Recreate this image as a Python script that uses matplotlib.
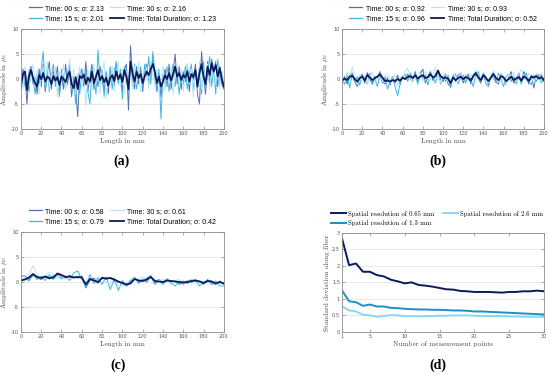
import numpy as np
import matplotlib
matplotlib.use("Agg")
import matplotlib.pyplot as plt

plt.rcParams["mathtext.fontset"] = "cm"
plt.rcParams["axes.unicode_minus"] = False

# kolory serii
C_00 = "#4f72ad"
C_15 = "#3fb5e0"
C_30 = "#b8e6f5"
C_TOT = "#0c1a5b"

# ---- panel (a): x co 2 mm ----
x_a = np.arange(0, 201, 2)
a_00 = [-2.0, 2.0, 0.5, -5.0, 1.5, 2.5, -1.0, 0.5, -3.0, 2.0,
        -1.5, 3.0, -2.5, 1.0, 3.5, -2.0, 1.5, 0.0, 2.5, -3.0,
        1.0, -2.0, 3.0, -1.0, 2.0, -3.5, 0.5, -2.0, -7.5, 1.0,
        2.0, -1.5, 3.5, -2.5, 0.5, 3.0, -2.0, 1.0, -1.5, 2.5,
        0.0, -2.5, 1.5, -3.0, 2.0, 0.5, -1.5, 3.0, -0.5, 1.5,
        -2.5, 2.0, 3.0, -6.2, 6.7, 0.5, -2.0, 2.5, -1.0, 2.0,
        -2.5, 1.0, 3.0, -1.0, 2.0, 4.0, 0.5, -2.5, 1.0, -3.5,
        0.0, 2.0, -1.5, 3.0, -2.0, 1.5, 5.0, -1.0, 2.5, -2.0,
        1.5, -0.5, 3.0, -2.5, 2.0, 0.0, 3.0, -3.0, -5.0, 5.5,
        0.5, -3.0, 3.5, -1.0, 4.0, 1.0, 3.5, -1.5, 2.5, -1.0,
        -2.0]
a_15 = [-1.0, 1.5, -1.5, 0.5, -2.5, 2.5, 0.0, -3.0, 1.0, -1.0,
        2.0, 5.5, -2.0, 1.5, -2.5, 0.5, 3.0, -1.5, 1.0, -3.5,
        2.0, 0.5, -2.0, 1.5, 3.0, -2.0, 0.0, -5.0, 1.0, -3.0,
        2.0, -1.0, 1.5, -2.5, -5.0, 2.0, 0.0, -3.0, 5.8, -1.0,
        2.0, -3.5, 1.0, -1.5, 2.5, -2.0, 1.5, 3.5, -1.0, 2.0,
        -4.0, 2.5, 0.5, -2.5, 2.0, -1.0, 3.0, -2.0, 1.0, 2.5,
        -2.0, 3.0, 0.5, 4.5, -1.0, 5.5, 1.5, -2.0, 2.0, -8.0,
        1.0, -1.5, 2.5, -2.5, 1.0, 3.0, -1.5, 2.0, -3.0, 1.5,
        -1.0, 2.5, -2.0, 1.0, 3.0, -2.5, 1.5, -1.0, 2.5, -3.0,
        3.5, -2.0, 1.0, 4.5, -1.5, 2.5, -3.0, 4.0, -1.0, 1.5,
        -1.0]
a_30 = [1.0, -2.0, 2.5, 0.0, -1.5, 1.0, 3.0, -1.0, 2.0, -3.0,
        0.5, 2.5, -1.0, 3.5, -2.0, 1.0, -0.5, 2.5, -3.5, 1.5,
        0.0, 3.0, -2.0, 1.0, 4.0, -1.5, 2.0, -3.0, 0.5, 2.5,
        -2.0, 1.5, -5.5, 2.0, 0.0, -2.5, 3.0, -1.0, 2.0, -3.0,
        1.5, 3.5, -4.0, 1.0, -1.5, 2.5, -2.5, 1.0, 3.5, -1.5,
        2.0, -3.0, 1.5, 0.0, 3.0, -2.0, 2.5, -1.0, 3.5, -2.5,
        1.0, -0.5, 2.5, -2.0, 3.5, 1.0, -1.5, 2.0, -3.0, 0.5,
        2.5, -2.5, 1.5, -1.0, 2.5, -3.0, 1.0, 3.0, -1.5, 2.0,
        -2.5, 1.0, 3.0, -1.0, 2.0, -3.5, 1.5, 0.0, 3.5, -2.0,
        2.0, -1.0, 3.0, -2.0, 1.5, 3.0, -1.0, 2.5, -2.0, 1.5,
        -0.5]
a_tot = [-1.5, 1.0, 1.5, -2.2, 0.5, 1.8, 0.2, -0.8, -1.5, 0.8,
         0.0, 1.2, -0.5, 0.5, 0.2, -1.0, 0.6, -0.3, 0.4, -1.2,
         0.5, 0.0, -0.6, 0.8, 1.5, -1.0, -1.8, 0.4, -2.0, 0.6,
         0.2, 0.9, -1.0, 0.3, -0.5, 1.5, -0.8, 0.5, 1.8, -0.2,
         0.6, -0.6, 0.3, -1.3, 0.2, 0.8, -0.4, 1.5, 0.0, 1.0,
         -0.6, 1.8, 0.5, -2.0, 3.5, 1.2, -0.5, 1.5, 0.2, 1.0,
         -0.8, 0.6, 1.5, 0.8, 2.0, 3.0, 1.5, -0.8, 0.5, -1.5,
         -0.5, 0.8, 0.0, 1.2, -0.3, 1.0, 2.5, 0.5, 1.2, -0.2,
         0.8, 0.3, 1.5, -0.5, 1.0, 0.4, 1.8, -1.5, 1.2, 3.0,
         0.5, -1.0, 2.5, 0.8, 3.2, 1.5, 2.8, 0.5, 2.2, 0.0,
         -1.5]
sig_a = ["2.13", "2.01", "2.16", "1.23"]

# ---- panel (b): x co 2.5 mm ----
x_b = np.arange(0, 201, 2.5)
b_00 = [-0.5, 0.5, -1.0, 0.8, 1.2, -0.5, -1.5, 0.3, 1.0, -0.8,
        1.3, 0.0, -1.0, 0.5, 0.2, 1.5, -0.5, -1.0, 0.3, -1.2,
        0.5, -0.8, 0.8, -1.0, 0.5, 0.0, 1.0, 0.2, -0.5, 1.5,
        -0.5, 1.0, 2.0, -0.8, 0.5, 1.5, -0.3, 1.0, 1.8, 0.0,
        -0.5, 1.0, -1.0, -1.5, 0.8, -0.5, 0.8, 1.2, -0.8, 0.5,
        1.0, -1.0, 0.8, 1.5, 0.0, -0.8, 1.2, 0.5, -1.2, 0.5,
        1.5, -0.5, -1.0, 1.0, 0.5, -1.0, 0.3, 1.5, -0.8, 0.0,
        1.2, -0.5, 1.5, 0.5, -1.0, 0.8, -1.8, 1.0, 0.5, 0.8,
        -0.5]
b_15 = [-0.3, -1.0, 0.8, -1.8, 1.0, -0.5, 0.5, -1.2, 0.8, 0.0,
        -1.0, 1.2, -0.5, 0.0, -1.5, 0.8, -0.8, 0.5, -2.0, -0.5,
        0.5, -1.5, -3.3, -1.0, 0.5, 1.0, -0.5, 1.2, 0.2, 0.8,
        -1.0, 1.5, 0.0, 0.8, -1.2, 1.0, 0.5, -0.8, 1.5, -1.0,
        0.5, -0.5, 0.8, -1.8, 0.5, 1.0, -1.0, 0.3, 0.8, -0.8,
        1.0, 0.0, -1.5, 1.0, 1.5, -0.5, 0.8, -1.0, -1.5, 0.8,
        0.3, -0.8, 1.2, 0.0, -1.5, 0.5, 1.0, -0.5, 0.5, -1.0,
        0.8, -1.0, 0.5, 1.2, -0.3, -1.2, 0.8, -0.5, 1.0, -0.8,
        0.3]
b_30 = [0.5, -0.5, 1.5, 0.0, 2.5, 0.5, -1.0, 1.0, -0.5, 0.8,
        -1.0, 0.5, 1.5, -0.8, 0.0, 1.2, -0.5, 0.8, 1.0, -0.8,
        0.2, 1.0, -1.5, 0.5, 0.0, 1.5, 2.2, 0.5, -0.5, 1.0,
        0.0, 1.2, -0.5, 1.5, 0.8, -0.3, 1.0, 2.3, 0.5, -0.8,
        0.8, 1.2, -0.5, 0.0, 1.0, 0.5, -0.5, 1.5, 0.0, 1.0,
        -0.5, 1.0, 0.5, 1.8, -0.3, 0.5, 1.5, 0.0, -0.8, 1.0,
        1.5, 0.0, -0.5, 1.2, 0.5, -1.0, 1.0, 0.0, 1.5, -0.5,
        1.0, 2.0, 0.3, -0.5, 1.2, 0.5, -0.8, 1.0, 0.3, 1.2,
        0.0]
b_tot = [-0.3, 0.1, -0.2, 0.4, 0.7, 0.0, -0.5, 0.2, 0.5, -0.3,
         0.8, 0.3, -0.2, 0.2, 0.5, 1.0, 0.3, -0.4, -0.3, -0.5,
         -0.2, -0.4, 0.0, -0.3, 0.3, 0.0, 0.4, 0.6, 0.2, 0.8,
         0.1, 0.5, 0.8, 0.2, 0.4, 1.0, 0.3, 0.6, 1.7, 0.6,
         0.2, 0.3, 0.1, -0.8, 0.3, -0.2, 0.2, 0.5, 0.0, 0.4,
         0.2, -0.3, 0.6, 1.2, 0.3, -0.2, 0.8, 0.2, -0.4, 0.3,
         1.0, 0.2, -0.2, 0.6, 0.3, -0.4, 0.0, 0.5, -0.2, 0.1,
         0.4, -0.3, 0.5, 0.2, -0.4, 0.5, 0.3, 0.6, 0.1, 0.4,
         -0.2]
sig_b = ["0.92", "0.96", "0.93", "0.52"]

# ---- panel (c): x co 4 mm ----
x_c = np.arange(0, 201, 4)
c_00 = [1.2, 1.2, 0.5, 1.3, 0.8, 0.5, 1.0, 0.6, 1.2, 1.5,
        1.0, 0.8, 1.3, 1.0, 0.8, 1.2, -1.2, 0.3, 0.8, -0.3,
        1.0, 0.5, 0.9, 0.2, 0.0, -0.3, -0.8, 0.2, 0.8, 0.0,
        0.5, 0.0, 1.2, -0.3, 0.5, -0.2, 0.6, 0.0, 0.3, -0.5,
        0.2, -0.3, 0.5, 0.0, 0.3, -0.5, 0.5, -0.2, -0.5, 0.2,
        -0.5]
c_15 = [0.0, 0.8, 0.2, 1.5, 0.5, 1.2, 0.3, 1.5, 0.5, 1.2,
        0.6, 1.2, 0.3, 1.8, 2.2, 0.5, -1.0, 1.5, -0.3, 0.8,
        -0.5, 1.0, -1.5, 0.5, -1.7, 0.3, -0.8, 0.3, 1.0, -0.3,
        0.5, 0.8, 1.3, -0.5, 0.3, -0.5, 0.5, -0.3, -0.8, 0.2,
        -0.5, 0.3, -0.2, 0.5, -0.8, 0.0, 0.3, -0.5, 0.2, -0.8,
        -0.8]
c_30 = [0.5, 0.8, 1.5, 3.3, 1.5, 0.8, 1.2, 2.0, 1.5, 1.0,
        1.3, 0.5, 1.0, 0.8, 1.2, 0.5, 0.0, 0.8, 0.3, 1.0,
        0.5, 0.0, -0.5, 1.0, -0.8, -1.0, -0.3, 0.5, 0.8, 0.5,
        1.0, 0.5, 0.8, 0.6, 0.3, 0.5, 0.2, 0.0, 0.3, 0.5,
        0.0, 0.3, 0.5, -0.2, 0.3, 0.0, -0.3, 0.2, -0.5, 0.0,
        -0.5]
c_tot = [0.3, 0.5, 0.9, 1.6, 1.0, 0.8, 1.1, 0.8, 0.9, 1.7,
         1.4, 1.0, 1.1, 0.9, 1.0, 0.9, -0.5, 0.6, 0.3, 0.0,
         0.8, 0.7, 0.8, 0.5, 0.1, -0.2, -0.5, -0.3, 0.6, 0.3,
         0.2, 0.5, 1.0, 0.2, 0.1, 0.0, 0.3, 0.2, 0.1, 0.0,
         -0.1, 0.0, 0.2, 0.3, 0.1, -0.2, 0.2, 0.1, -0.3, 0.0,
         -0.3]
sig_c = ["0.58", "0.79", "0.61", "0.42"]

# ---- panel (d) ----
n_points = np.arange(1, 31)
sd_065 = [2.82, 2.02, 2.07, 1.82, 1.82, 1.72, 1.68, 1.58, 1.53, 1.47,
          1.50, 1.42, 1.40, 1.37, 1.33, 1.29, 1.28, 1.24, 1.23, 1.21,
          1.21, 1.21, 1.20, 1.19, 1.21, 1.21, 1.23, 1.23, 1.25, 1.23]
sd_13 = [1.25, 0.93, 0.90, 0.79, 0.83, 0.77, 0.77, 0.73, 0.72, 0.70,
         0.69, 0.68, 0.68, 0.67, 0.67, 0.66, 0.65, 0.65, 0.64, 0.62,
         0.62, 0.61, 0.60, 0.59, 0.58, 0.57, 0.56, 0.55, 0.54, 0.53]
sd_26 = [0.78, 0.65, 0.62, 0.52, 0.50, 0.46, 0.48, 0.51, 0.50, 0.48,
         0.48, 0.47, 0.48, 0.48, 0.49, 0.49, 0.50, 0.50, 0.50, 0.49,
         0.48, 0.48, 0.48, 0.48, 0.47, 0.47, 0.46, 0.46, 0.46, 0.45]

time_labels = ["00 s", "15 s", "30 s", "Total Duration"]

LABEL_KW = dict(family="cmr10", fontsize=5.2, labelpad=1.5, color="#444444")


def style_axes(ax):
    for sp in ax.spines.values():
        sp.set_color("#8c8c8c")
        sp.set_linewidth(0.6)
    ax.tick_params(direction="in", top=True, right=True, length=2, width=0.5,
                   labelsize=3.6, colors="#8c8c8c", labelcolor="#555555", pad=1.5)
    ax.yaxis.grid(True, color="#e4e4e4", lw=0.6)
    ax.set_axisbelow(True)


def plot_time_panel(ax, x, series, sigmas):
    cols = [C_00, C_15, C_30, C_TOT]
    lws = [0.7, 0.7, 0.7, 1.3]
    for y, s, col, lw, lab in zip(series, sigmas, cols, lws, time_labels):
        ax.plot(x, y, color=col, lw=lw, label=f"Time: {lab}; σ: {s}")
    ax.set_xlim(0, 200)
    ax.set_ylim(-10, 10)
    ax.set_xticks(np.arange(0, 201, 20))
    ax.set_yticks([-10, -5, 0, 5, 10])
    ax.set_xlabel("Length in mm", **LABEL_KW)
    ax.set_ylabel(r"Amplitude in $\mu\varepsilon$", **LABEL_KW)
    style_axes(ax)
    leg = ax.legend(ncol=2, loc="lower center", bbox_to_anchor=(0.5, 1.0), frameon=False,
                    prop={"family": "Liberation Sans", "size": 5.0}, handlelength=1.9,
                    handletextpad=0.5, columnspacing=0.9, labelspacing=0.5,
                    borderaxespad=0.6)
    for ln in leg.get_lines():
        ln.set_linewidth(1.3 if ln.get_color() == C_TOT else 0.9)


fig = plt.figure(figsize=(5.5, 3.73), dpi=100)
ax_a = fig.add_axes([0.038, 0.654, 0.369, 0.268])
ax_b = fig.add_axes([0.622, 0.654, 0.367, 0.268])
ax_c = fig.add_axes([0.038, 0.110, 0.369, 0.268])
ax_d = fig.add_axes([0.622, 0.110, 0.367, 0.266])

plot_time_panel(ax_a, x_a, [a_00, a_15, a_30, a_tot], sig_a)
plot_time_panel(ax_b, x_b, [b_00, b_15, b_30, b_tot], sig_b)
plot_time_panel(ax_c, x_c, [c_00, c_15, c_30, c_tot], sig_c)

ax_d.plot(n_points, sd_065, color=C_TOT, lw=1.4, label="Spatial resolution of 0.65 mm")
ax_d.plot(n_points, sd_13, color="#1b8fc6", lw=1.4, label="Spatial resolution of 1.3 mm")
ax_d.plot(n_points, sd_26, color="#8ad8ef", lw=1.4, label="Spatial resolution of 2.6 mm")
ax_d.set_xlim(1, 30)
ax_d.set_ylim(0, 3)
ax_d.set_xticks([1, 5, 10, 15, 20, 25, 30])
ax_d.set_yticks([0, 0.5, 1, 1.5, 2, 2.5, 3])
ax_d.set_yticklabels(["0", "0.5", "1", "1.5", "2", "2.5", "3"])
ax_d.set_xlabel("Number of measurement points", **LABEL_KW)
ax_d.set_ylabel("Standard deviation along fiber", **LABEL_KW)
style_axes(ax_d)
ax_d.legend(ncol=2, loc="lower center", bbox_to_anchor=(0.47, 1.0), frameon=False,
            prop={"family": "cmr10", "size": 4.8}, handlelength=2.3,
            handletextpad=0.3, columnspacing=1.2, labelspacing=0.5, borderaxespad=0.6)

for lab, xx, yy in [("(a)", 0.22, 0.568), ("(b)", 0.797, 0.568),
                    ("(c)", 0.215, 0.021), ("(d)", 0.797, 0.021)]:
    fig.text(xx, yy, lab, ha="center", va="center", family="Liberation Serif",
             fontweight="bold", fontsize=10)

fig.savefig("out.png", dpi=100, facecolor="white")
